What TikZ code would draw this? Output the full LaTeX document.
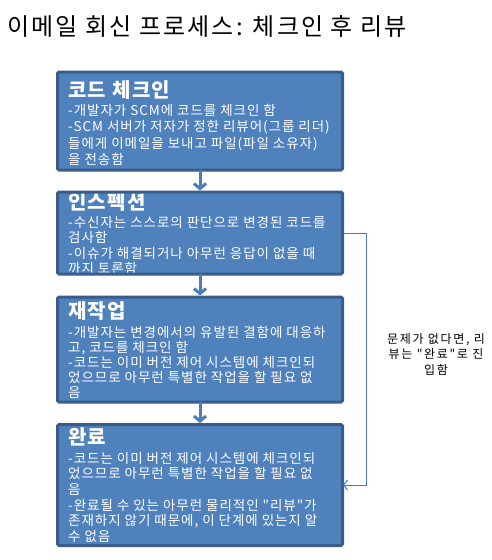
\documentclass[tikz,border=0pt]{standalone}
\usepackage{fontspec}
\newfontfamily\krtitle{Noto Sans CJK KR}[LetterSpace=9]
\newfontfamily\krbody{Noto Sans CJK KR}[LetterSpace=7]
\newfontfamily\krnote{Noto Sans CJK KR}[LetterSpace=14]
\usetikzlibrary{arrows.meta}
\definecolor{boxfill}{HTML}{4F81BD}
\definecolor{boxline}{HTML}{385D8A}
\definecolor{conn}{HTML}{4A7EBB}
\tikzset{
  boxbg/.style={rectangle, fill=boxfill, inner sep=0pt, outer sep=0pt, minimum width=285pt, rounded corners=1.5pt},
  boxborder/.style={draw=boxline, line width=3pt, rounded corners=1.5pt},
  boxtitle/.style={anchor=base west, inner sep=0pt, text=white, font=\krbody\fontsize{20}{22}\selectfont\bfseries},
  boxbody/.style={anchor=base west, inner sep=0pt, text=white, align=left},
  flow/.style={draw=conn, line width=3pt, -{Straight Barb[length=5pt,width=12pt]}, shorten >=1.5pt},
  loopline/.style={draw=conn, line width=1pt, -{Straight Barb[length=4pt,width=10pt]}},
  note/.style={inner sep=0pt, align=center, font=\krnote\fontsize{12}{15.5}\selectfont}
}
\begin{document}
\begin{tikzpicture}[x=1pt, y=-1pt]
\useasboundingbox (0,0) rectangle (492,560);
\node[anchor=base west, inner sep=0pt, font=\krtitle\fontsize{24}{28}\selectfont] (title) at (7,35) {이메일 회신 프로세스: 체크인 후 리뷰};

\node[boxbg, minimum height=98pt] (b1) at (200,121) {};
\node[boxbg, minimum height=82pt] (b2) at (200,233) {};
\node[boxbg, minimum height=105pt] (b3) at (200,349.5) {};
\node[boxbg, minimum height=121pt] (b4) at (200,485) {};

\node[boxtitle] (t1) at (68,97) {코드 체크인};
\node[boxbody, font=\krbody\fontsize{13.5}{16.5}\selectfont] (x1) at (68,164.5) {-개발자가 SCM에 코드를 체크인 함\\-SCM 서버가 저자가 정한 리뷰어(그룹 리더)\\들에게 이메일을 보내고 파일(파일 소유자)\\을 전송함};

\node[boxtitle] (t2) at (68,209) {인스펙션};
\node[boxbody, font=\krbody\fontsize{13.5}{15.5}\selectfont] (x2) at (68,273.5) {-수신자는 스스로의 판단으로 변경된 코드를\\검사함\\-이슈가 해결되거나 아무런 응답이 없을 때\\까지 토론함};

\node[boxtitle] (t3) at (68,318) {재작업};
\node[boxbody, font=\krbody\fontsize{13.5}{15}\selectfont] (x3) at (68,397) {-개발자는 변경에서의 유발된 결함에 대응하\\고, 코드를 체크인 함\\-코드는 이미 버전 제어 시스템에 체크인되\\었으므로 아무런 특별한 작업을 할 필요 없\\음};

\node[boxtitle] (t4) at (68,444) {완료};
\node[boxbody, font=\krbody\fontsize{13.5}{15.7}\selectfont] (x4) at (68,541.5) {-코드는 이미 버전 제어 시스템에 체크인되\\었으므로 아무런 특별한 작업을 할 필요 없\\음\\-완료될 수 있는 아무런 물리적인 "리뷰"가\\존재하지 않기 때문에, 이 단계에 있는지 알\\수 없음};

\draw[boxborder] (b1.north west) rectangle (b1.south east);
\draw[boxborder] (b2.north west) rectangle (b2.south east);
\draw[boxborder] (b3.north west) rectangle (b3.south east);
\draw[boxborder] (b4.north west) rectangle (b4.south east);

\draw[flow] (b1.south) -- (b2.north);
\draw[flow] (b2.south) -- (b3.north);
\draw[flow] (b3.south) -- (b4.north);

\coordinate (c1) at (366,233);
\draw[loopline, shorten >=-1pt] ([xshift=1.5pt]b2.east) -- (c1) |- ([xshift=1.5pt]b4.east);

\node[note] (lbl) at (436,354) {문제가 없다면, 리\\뷰는 "완료"로 진\\입함};
\end{tikzpicture}
\end{document}
